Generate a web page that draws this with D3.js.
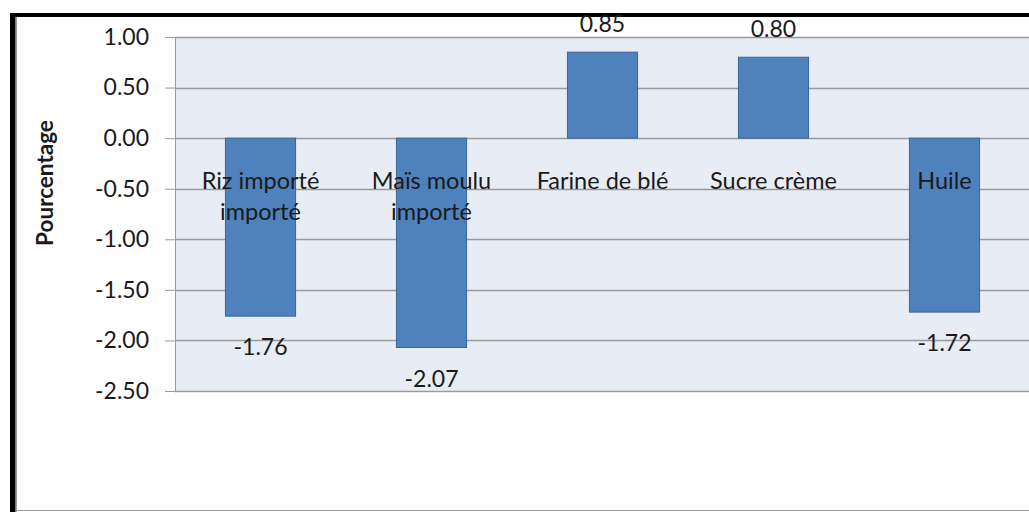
<!DOCTYPE html>
<html>
<head>
<meta charset="utf-8">
<script src="https://cdn.jsdelivr.net/npm/d3@7"></script>
<style>
  body { margin: 0; background: #fff; }
  svg { display: block; }
  text { font-family: Lato, "Open Sans", sans-serif; fill: #1a1a1a; }
</style>
</head>
<body>
<div class="container"></div>
<script>
const WIDTH = 1029;
const HEIGHT = 512;
const PLOT_LEFT = 175;
const PLOT_TOP = 37;
const PLOT_BOTTOM = 391;
const PLOT_RIGHT = 1030;

// data
var categories = [["Riz importé", "importé"], ["Maïs moulu", "importé"], ["Farine de blé"], ["Sucre crème"], ["Huile"]];
var values = [-1.76, -2.07, 0.85, 0.80, -1.72];
var yTicks = [1.00, 0.50, 0.00, -0.50, -1.00, -1.50, -2.00, -2.50];

var translate = function (x, y) {
    return "translate(" + x + "," + y + ")";
};

// plain hyphen for negatives, like the original
var fmt = function (d) {
    return d3.format('.2f')(d).replace('\u2212', '-');
};

var _xScale = d3.scaleBand()
    .domain(d3.range(categories.length))
    .range([PLOT_LEFT, PLOT_RIGHT])
    .paddingInner(0.59)
    .paddingOuter(0.295);

var _yScale = d3.scaleLinear()
    .domain([-2.5, 1])
    .range([PLOT_BOTTOM, PLOT_TOP]);

var draw = function () {
    var svg = d3.select('.container').append('svg')
        .attr('width', WIDTH)
        .attr('height', HEIGHT);

    // frame
    svg.append('rect').attr('x', 0).attr('y', 0).attr('width', WIDTH).attr('height', HEIGHT).attr('fill', '#fff');
    svg.append('line').attr('x1', 16.5).attr('x2', 16.5).attr('y1', 17).attr('y2', HEIGHT)
        .attr('stroke', '#9a9a9a').attr('stroke-width', 1);
    svg.append('line').attr('x1', 16).attr('x2', WIDTH).attr('y1', 510.5).attr('y2', 510.5)
        .attr('stroke', '#9a9a9a').attr('stroke-width', 1);
    svg.append('rect').attr('x', 10).attr('y', 13).attr('width', 5.5).attr('height', HEIGHT - 13).attr('fill', '#000');
    svg.append('rect').attr('x', 10).attr('y', 13).attr('width', WIDTH - 10).attr('height', 4).attr('fill', '#000');

    // plot background
    svg.append('rect')
        .attr('x', PLOT_LEFT).attr('y', PLOT_TOP)
        .attr('width', PLOT_RIGHT - PLOT_LEFT).attr('height', PLOT_BOTTOM - PLOT_TOP)
        .attr('fill', '#e8ecf4');

    // y axis with gridlines
    var yAxis = d3.axisLeft(_yScale)
        .tickValues(yTicks)
        .tickSize(10)
        .tickPadding(16)
        .tickFormat(fmt);

    var gy = svg.append('g')
        .attr('transform', translate(PLOT_LEFT, 0))
        .call(yAxis);
    gy.select('.domain').attr('stroke', '#9a9a9a');
    gy.selectAll('.tick line').attr('stroke', '#9a9a9a');
    gy.selectAll('.tick text')
        .attr('font-size', 23)
        .attr('fill', '#1a1a1a')
        .style('font-family', 'Lato, "Open Sans", sans-serif');

    svg.append('g').selectAll('line')
        .data(yTicks)
        .enter().append('line')
        .attr('x1', PLOT_LEFT).attr('x2', PLOT_RIGHT)
        .attr('y1', function (d) { return Math.round(_yScale(d)) + 0.5; })
        .attr('y2', function (d) { return Math.round(_yScale(d)) + 0.5; })
        .attr('stroke', '#9a9a9a').attr('stroke-width', 1.5);

    // bars
    svg.append('g').selectAll('rect')
        .data(values)
        .enter().append('rect')
        .attr('x', function (d, i) { return _xScale(i); })
        .attr('width', _xScale.bandwidth())
        .attr('y', function (d) { return _yScale(Math.max(0, d)); })
        .attr('height', function (d) { return Math.abs(_yScale(d) - _yScale(0)); })
        .attr('fill', '#4f81bd')
        .attr('stroke', '#3b6597')
        .attr('stroke-width', 1);

    // category labels
    var cat = svg.append('g').selectAll('text')
        .data(categories)
        .enter().append('text')
        .attr('text-anchor', 'middle')
        .attr('font-size', 23.5)
        .attr('x', function (d, i) { return _xScale(i) + _xScale.bandwidth() / 2; })
        .attr('y', 189);
    cat.selectAll('tspan')
        .data(function (d) { return d; })
        .enter().append('tspan')
        .attr('x', function () { return d3.select(this.parentNode).attr('x'); })
        .attr('dy', function (d, j) { return j === 0 ? 0 : 31; })
        .text(function (d) { return d; });

    // value labels
    svg.append('g').selectAll('text')
        .data(values)
        .enter().append('text')
        .attr('text-anchor', 'middle')
        .attr('font-size', 23)
        .attr('x', function (d, i) { return _xScale(i) + _xScale.bandwidth() / 2; })
        .attr('y', function (d) { return d < 0 ? _yScale(d) + 39 : _yScale(d) - 20; })
        .text(fmt);

    // y title
    svg.append('text')
        .attr('transform', translate(53, 183) + ' rotate(-90)')
        .attr('text-anchor', 'middle')
        .attr('font-size', 22.5)
        .attr('font-weight', 'bold')
        .text('Pourcentage');
};

window.onload = draw;
</script>
</body>
</html>
